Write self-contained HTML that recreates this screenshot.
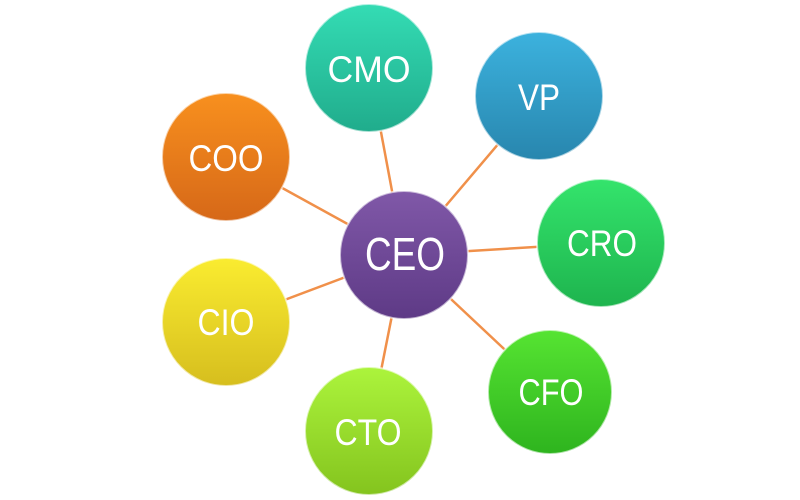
<!DOCTYPE html>
<html><head><meta charset="utf-8"><style>
html,body{margin:0;padding:0;background:#fff;width:800px;height:500px;overflow:hidden}
svg{display:block}
text{font-family:"Liberation Sans",sans-serif;fill:#fff;text-anchor:middle}
</style></head><body>
<svg width="800" height="500" viewBox="0 0 800 500">
<defs>
<linearGradient id="gCEO" x1="0" y1="0" x2="0" y2="1"><stop offset="0" stop-color="#8058a8"/><stop offset="1" stop-color="#5e3a86"/></linearGradient>
<linearGradient id="gCMO" x1="0" y1="0" x2="0" y2="1"><stop offset="0" stop-color="#34dcb4"/><stop offset="1" stop-color="#20ac8c"/></linearGradient>
<linearGradient id="gVP" x1="0" y1="0" x2="0" y2="1"><stop offset="0" stop-color="#3cb2de"/><stop offset="1" stop-color="#2886ae"/></linearGradient>
<linearGradient id="gCOO" x1="0" y1="0" x2="0" y2="1"><stop offset="0" stop-color="#f8901e"/><stop offset="1" stop-color="#d66818"/></linearGradient>
<linearGradient id="gCRO" x1="0" y1="0" x2="0" y2="1"><stop offset="0" stop-color="#34e46c"/><stop offset="1" stop-color="#1eb44e"/></linearGradient>
<linearGradient id="gCIO" x1="0" y1="0" x2="0" y2="1"><stop offset="0" stop-color="#faec30"/><stop offset="1" stop-color="#d6be1e"/></linearGradient>
<linearGradient id="gCTO" x1="0" y1="0" x2="0" y2="1"><stop offset="0" stop-color="#acf43c"/><stop offset="1" stop-color="#84c41e"/></linearGradient>
<linearGradient id="gCFO" x1="0" y1="0" x2="0" y2="1"><stop offset="0" stop-color="#56e432"/><stop offset="1" stop-color="#2eb41e"/></linearGradient>
</defs>
<g stroke="#f0904a" stroke-width="2.5">
<line x1="404" y1="255" x2="369" y2="68"/>
<line x1="404" y1="255" x2="539" y2="96"/>
<line x1="404" y1="255" x2="226" y2="157"/>
<line x1="404" y1="255" x2="601" y2="243"/>
<line x1="404" y1="255" x2="226" y2="322"/>
<line x1="404" y1="255" x2="369" y2="431"/>
<line x1="404" y1="255" x2="550" y2="392"/>
</g>
<g stroke="#ffffff" stroke-opacity="0.6" stroke-width="2">
<circle cx="369" cy="68" r="64" fill="url(#gCMO)"/>
<circle cx="539" cy="96" r="64" fill="url(#gVP)"/>
<circle cx="226" cy="157" r="64" fill="url(#gCOO)"/>
<circle cx="601" cy="243" r="64" fill="url(#gCRO)"/>
<circle cx="226" cy="322" r="64" fill="url(#gCIO)"/>
<circle cx="369" cy="431" r="64" fill="url(#gCTO)"/>
<circle cx="550" cy="392" r="62" fill="url(#gCFO)"/>
<circle cx="404" cy="255" r="64" fill="url(#gCEO)"/>
</g>
<g font-size="37">
<text x="369" y="82" textLength="83" lengthAdjust="spacingAndGlyphs">CMO</text>
<text x="539" y="110" textLength="42" lengthAdjust="spacingAndGlyphs">VP</text>
<text x="226" y="171" textLength="75" lengthAdjust="spacingAndGlyphs">COO</text>
<text x="602" y="256" textLength="70" lengthAdjust="spacingAndGlyphs">CRO</text>
<text x="226" y="335" textLength="57" lengthAdjust="spacingAndGlyphs">CIO</text>
<text x="368" y="445" textLength="67" lengthAdjust="spacingAndGlyphs">CTO</text>
<text x="551" y="405" textLength="65" lengthAdjust="spacingAndGlyphs">CFO</text>
</g>
<text x="405" y="270" font-size="46" textLength="80" lengthAdjust="spacingAndGlyphs">CEO</text>
</svg>
</body></html>
